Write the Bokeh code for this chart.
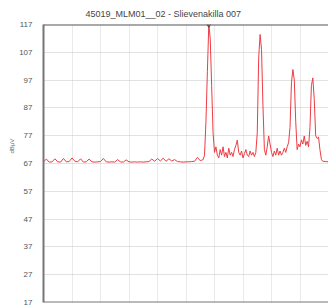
from bokeh.plotting import figure
from bokeh.models import FixedTicker, Span, Range1d, Title
from bokeh.embed import file_html
from bokeh.resources import INLINE

title_text = "45019_MLM01__02 - Slievenakilla 007"
y_label = "dBµV"
y_ticks = [17, 27, 37, 47, 57, 67, 77, 87, 97, 107, 117]
x_grid = [0, 10, 20, 30, 40, 50, 60, 70, 80, 90, 100]

# trace (channel position, level dBµV)
chan = [0, 1, 2, 3, 4, 5, 6, 7, 8, 9, 10, 11, 12, 13, 14, 15, 16, 17, 18, 19,
        20, 21, 22, 23, 24, 25, 26, 27, 28, 29, 30, 31, 32, 33, 34, 35, 36, 37, 38, 39,
        40, 41, 42, 43, 44, 45, 46, 47, 48, 49, 50, 51, 52, 53, 54,
        55, 56, 56.5, 57, 57.5, 58, 58.5, 59, 59.5, 60, 60.5, 61, 61.5, 62, 62.5,
        63, 63.5, 64, 64.5, 65, 65.5, 66, 66.5, 67, 67.5, 68, 68.5, 69, 69.5, 70,
        70.5, 71, 71.5, 72, 72.5, 73, 73.5, 74, 74.5, 75, 75.5, 76, 76.5, 77, 77.5,
        78, 78.5, 79, 79.5, 80, 80.5, 81, 81.5, 82, 82.5, 83, 83.5, 84, 84.5, 85,
        85.5, 86, 86.5, 87, 87.5, 88, 88.5, 89, 89.5, 90, 90.5, 91, 91.5, 92, 92.5,
        93, 93.5, 94, 94.5, 95, 95.5, 96, 96.5, 97, 97.5, 98, 99, 100]
level = [67.6, 68.6, 67.5, 67.6, 68.7, 67.6, 67.5, 68.8, 67.6, 67.7, 69.0, 67.8, 67.6, 68.7, 67.5, 67.6, 68.6, 67.6, 67.5, 67.6,
         67.7, 68.8, 67.6, 67.5, 67.6, 67.5, 68.4, 67.6, 67.5, 68.3, 67.6, 67.5, 67.6, 67.5, 67.6, 67.5, 67.6, 67.7, 68.6, 67.8,
         68.8, 67.9, 68.9, 67.8, 68.7, 67.9, 68.4, 67.7, 67.6, 67.5, 67.6, 67.6, 67.7, 67.8, 69.2,
         68.0, 68.4, 70.0, 82.0, 100.0, 117.0, 112.0, 95.0, 78.0, 71.0, 73.0, 70.0, 69.0, 72.0, 70.0,
         73.0, 69.5, 71.0, 69.0, 72.5, 70.0, 71.0, 69.5, 72.0, 73.5, 75.4, 71.0, 70.0, 71.5, 69.0,
         70.5, 72.0, 70.0, 69.5, 71.5, 70.0, 71.0, 69.5, 71.0, 78.0, 105.0, 113.4, 108.0, 88.0, 72.0,
         70.0, 73.0, 76.9, 74.0, 71.0, 69.5, 71.5, 70.0, 72.5, 70.0, 71.5, 70.0, 71.0, 72.5, 71.0,
         73.0, 74.5, 80.0, 96.0, 100.8, 97.0, 82.0, 72.0, 74.0, 73.0, 75.5, 74.0, 76.9, 73.5, 75.0,
         73.0, 80.0, 95.0, 97.8, 90.0, 77.0, 76.0, 76.5, 72.0, 68.5, 67.8, 67.7, 67.6]

marker_x = [58]
marker_y = [117]

p = figure(width=328, height=305, output_backend="svg", toolbar_location=None,
           x_range=Range1d(0, 100), y_range=Range1d(17, 117),
           min_border_left=43, min_border_right=0, min_border_top=23, min_border_bottom=3)
p.background_fill_color = "white"
p.border_fill_color = "white"
p.outline_line_color = None

p.title.text = title_text
p.title.text_font = "Liberation Sans"
p.title.text_font_size = "9px"
p.title.text_font_style = "normal"
p.title.text_color = "#444444"
p.title.align = "left"
p.title.offset = 42
p.title.standoff = 12

# y axis label as a left-side title
p.add_layout(Title(text=y_label, align="left", offset=149, text_font="Liberation Sans",
                   text_font_size="6px", text_font_style="normal", text_color="#666666",
                   standoff=4), "left")

# y axis
ya = p.yaxis[0]
ya.ticker = FixedTicker(ticks=y_ticks)
ya.major_tick_line_color = None
ya.minor_tick_line_color = None
ya.major_label_text_font = "Liberation Sans"
ya.major_label_text_font_size = "8px"
ya.major_label_text_color = "#555555"
ya.major_label_text_align = "left"
ya.major_label_standoff = 5
ya.axis_line_color = "#777777"
ya.axis_line_width = 2

p.xaxis.visible = False

p.xgrid.ticker = FixedTicker(ticks=x_grid)
p.ygrid.ticker = FixedTicker(ticks=y_ticks)
p.xgrid.grid_line_color = "#d4d4d4"
p.xgrid.grid_line_dash = "1 1"
p.ygrid.grid_line_color = "#c4c4c4"
p.ygrid.grid_line_dash = "1 1"

p.add_layout(Span(location=117, dimension="width", line_color="#555555", line_width=2, level="overlay"))
p.add_layout(Span(location=17, dimension="width", line_color="#777777", line_width=2, level="overlay"))

p.line(chan, level, line_color="#ec3c44", line_width=1)
p.scatter(marker_x, marker_y, marker="inverted_triangle", size=5,
          fill_color=None, line_color="#444444", line_width=1)

open("out.html", "w").write(file_html(p, INLINE))
